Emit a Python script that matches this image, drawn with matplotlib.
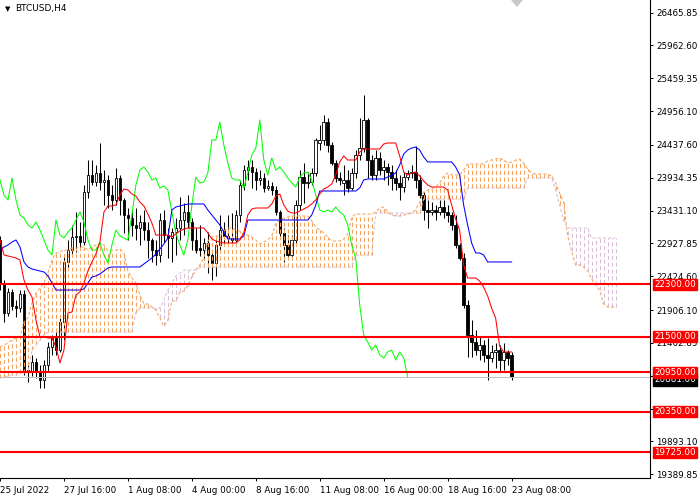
import matplotlib.pyplot as plt
from matplotlib.patches import Rectangle, Polygon

plt.rcParams['font.family'] = ['DejaVu Sans']

# BTCUSD H4 candles
opens = [22981, 22322, 21862, 22184, 21969, 21938, 22153, 20988, 20957, 21111,
         20957, 20835, 21065, 21340, 21478, 21294, 21724, 22644, 22827, 23027,
         23042, 22950, 23717, 23977, 23870, 24008, 23870, 23901, 23671, 23594,
         23931, 23594, 23364, 23318, 23211, 23165, 23257, 23134, 22981, 22827,
         22751, 23287, 23057, 23011, 23103, 23165, 23287, 23410, 23257, 22981,
         22858, 22827, 22935, 22751, 22628, 22904, 23134, 23042, 23011, 22981,
         23364, 23824, 24054, 24100, 24023, 23901, 23931, 23778, 23809, 23747,
         23410, 23088, 22904, 22751, 22981, 23517, 23947, 23855, 23870, 24008,
         24468, 24514, 24790, 24437, 24161, 23931, 23855, 23901, 23778, 24008,
         24284, 24391, 24820, 24207, 23977, 24238, 24054, 24100, 24023, 23931,
         23855, 23793, 23947, 24008, 24023, 23901, 23671, 23441, 23410, 23441,
         23410, 23487, 23410, 23364, 23211, 22904, 22705, 21984, 21524, 21417,
         21294, 21371, 21218, 21172, 21264, 21294, 21141, 21264, 21218]
highs = [23042, 22368, 22245, 22230, 22061, 22214, 22214, 21111, 21218, 21172,
         21065, 21141, 21417, 21524, 21601, 21785, 22751, 22981, 23211, 23410,
         23257, 23824, 24207, 24207, 24131, 24468, 24054, 23977, 23824, 24085,
         23977, 23625, 23471, 23441, 23471, 23364, 23441, 23257, 23011, 22981,
         23395, 23441, 23165, 23165, 23318, 23640, 23548, 23671, 23318, 23165,
         23211, 23011, 23103, 22827, 22981, 23364, 23257, 23364, 23395, 23441,
         23901, 24131, 24207, 24207, 24085, 24054, 24008, 23901, 23870, 23809,
         23441, 23165, 23057, 23057, 23594, 24054, 24161, 24023, 24085, 24544,
         24744, 24897, 24851, 24483, 24207, 24023, 24131, 24054, 24085, 24360,
         24851, 25204, 24851, 24284, 24360, 24330, 24207, 24161, 24131, 24054,
         23977, 24023, 24054, 24131, 24422, 23977, 23717, 23594, 23563, 23517,
         23594, 23594, 23517, 23410, 23364, 22935, 22782, 22061, 21754, 21601,
         21509, 21448, 21478, 21371, 21402, 21371, 21402, 21294, 21264]
lows = [22214, 21724, 21816, 21908, 21800, 21877, 20911, 20804, 20896, 20865,
        20712, 20712, 20957, 21218, 21218, 21264, 21448, 22552, 22751, 22797,
        22827, 22904, 23625, 23824, 23809, 23747, 23517, 23471, 23441, 23517,
        23364, 23088, 22981, 23042, 22981, 22904, 22981, 22705, 22644, 22598,
        22644, 22950, 22705, 22644, 22751, 22981, 23057, 23165, 22827, 22782,
        22736, 22674, 22475, 22368, 22429, 22827, 22904, 22935, 22904, 22904,
        23257, 23747, 23901, 23778, 23747, 23824, 23717, 23747, 23671, 23364,
        23011, 22644, 22705, 22705, 22904, 23441, 23548, 23778, 23824, 23962,
        24360, 24437, 24330, 24131, 23870, 23824, 23671, 23717, 23747, 23931,
        24207, 24330, 23931, 23901, 23901, 23977, 23901, 23824, 23747, 23747,
        23594, 23717, 23901, 23931, 23778, 23625, 23287, 23165, 23364, 23287,
        23364, 23318, 23257, 23134, 22858, 22674, 21938, 21187, 21187, 21218,
        21141, 21111, 20835, 21111, 21019, 20957, 20988, 21065, 20835]
closes = [22322, 21862, 22184, 21969, 21938, 22153, 20988, 20957, 21111, 20957,
          20835, 21065, 21340, 21478, 21294, 21724, 22644, 22827, 23027, 23042,
          22950, 23717, 23977, 23870, 24008, 23870, 23901, 23671, 23594, 23931,
          23594, 23364, 23318, 23211, 23165, 23257, 23134, 22981, 22827, 22751,
          23287, 23057, 23011, 23103, 23165, 23287, 23410, 23257, 22981, 22827,
          22827, 22935, 22751, 22628, 22904, 23134, 23042, 23011, 22981, 23364,
          23824, 24054, 24100, 24023, 23901, 23931, 23778, 23809, 23747, 23410,
          23088, 22904, 22751, 22981, 23517, 23947, 23855, 23870, 24008, 24514,
          24514, 24790, 24437, 24161, 23931, 23901, 23901, 23778, 24008, 24284,
          24391, 24820, 24207, 23977, 24238, 24054, 24100, 24023, 23931, 23855,
          23793, 23947, 24008, 24023, 23901, 23671, 23441, 23410, 23441, 23410,
          23487, 23410, 23364, 23211, 22904, 22705, 21984, 21524, 21417, 21294,
          21371, 21218, 21172, 21264, 21294, 21141, 21264, 21172, 20881]

# Ichimoku lines
tenkan = [22981, 22751, 22736, 22720, 22705, 22674, 22368, 22214, 22107, 21754,
          21494, 21494, 21478, 21478, 21340, 21095, 21294, 21862, 21877, 22138,
          22184, 22322, 22506, 22644, 22766, 22950, 23410, 23502, 23502, 23517,
          23671, 23763, 23747, 23686, 23655, 23563, 23502, 23379, 23241, 23057,
          23057, 23057, 23057, 23027, 23073, 23119, 23149, 23165, 23165, 23165,
          23165, 23165, 23088, 22996, 22965, 22950, 22935, 22935, 22935, 22935,
          22981, 23088, 23364, 23456, 23471, 23471, 23471, 23471, 23533, 23655,
          23686, 23517, 23425, 23395, 23395, 23425, 23456, 23487, 23533, 23594,
          23686, 23763, 23793, 23839, 23977, 24177, 24269, 24207, 24207, 24207,
          24330, 24376, 24376, 24376, 24376, 24376, 24452, 24468, 24468, 24468,
          24269, 24023, 23977, 24008, 24023, 23962, 23885, 23824, 23793, 23793,
          23793, 23793, 23747, 23517, 23303, 23134, 22598, 22398, 22398, 22398,
          22352, 22260, 22122, 21938, 21785, 21356, 21264, 21264, 21264]
kijun = [22827, 22873, 22904, 22950, 22981, 22873, 22644, 22567, 22536, 22521,
         22506, 22490, 22429, 22322, 22214, 22214, 22214, 22214, 22214, 22214,
         22214, 22230, 22322, 22414, 22429, 22460, 22506, 22552, 22567, 22567,
         22567, 22567, 22567, 22567, 22567, 22567, 22613, 22659, 22705, 22766,
         22843, 22919, 23011, 23441, 23487, 23502, 23517, 23533, 23533, 23533,
         23533, 23533, 23441, 23364, 23287, 23211, 23103, 22996, 22996, 22996,
         22996, 23042, 23287, 23287, 23287, 23287, 23287, 23287, 23287, 23287,
         23287, 23287, 23287, 23287, 23287, 23287, 23287, 23287, 23364, 23517,
         23732, 23732, 23732, 23732, 23732, 23732, 23732, 23732, 23732, 23732,
         23778, 23901, 23916, 23916, 23916, 23916, 23916, 23947, 23977, 24008,
         24131, 24299, 24360, 24391, 24406, 24360, 24253, 24177, 24177, 24177,
         24177, 24177, 24177, 24177, 24100, 23977, 23517, 23211, 22935, 22782,
         22782, 22751, 22644, 22644, 22644, 22644, 22644, 22644, 22644]
span_a = [21340, 21371, 21402, 21448, 21478, 21494, 21724, 21785, 22015, 22168,
          22245, 22322, 22475, 22674, 22782, 22797, 22827, 22827, 22858, 22858,
          22873, 22873, 22827, 22873, 22904, 22935, 22904, 22812, 22827, 22827,
          22843, 22782, 22506, 22398, 22322, 22138, 22000, 22000, 21954, 21908,
          21785, 21662, 21754, 22046, 22046, 22184, 22199, 22276, 22414, 22521,
          22598, 22705, 22965, 23027, 23042, 23042, 23119, 23165, 23165, 23134,
          23119, 23057, 23057, 23027, 22981, 22919, 22950, 22981, 23042, 23241,
          23287, 23318, 23333, 23349, 23349, 23349, 23349, 23349, 23272, 23180,
          23134, 23088, 23027, 22965, 22965, 22965, 22996, 23073, 23333, 23379,
          23379, 23379, 23379, 23379, 23410, 23471, 23487, 23410, 23364, 23349,
          23349, 23364, 23379, 23395, 23441, 23563, 23717, 23747, 23763, 23793,
          23855, 23962, 24008, 23977, 23977, 23977, 24054, 24146, 24146, 24146,
          24146, 24146, 24192, 24207, 24223, 24238, 24207, 24161, 24177, 24207,
          24223, 24161, 24069, 24008, 23993, 23993, 23993, 23993, 23962, 23855,
          23701, 23563, 23057, 22812, 22598, 22598, 22567, 22506, 22383, 22291,
          22214, 22000, 21954, 21954, 21954]
span_b = [20865, 20881, 20896, 20911, 20911, 20942, 20942, 20957, 21294, 21371,
          21448, 21524, 21570, 21570, 21570, 21570, 21570, 21570, 21570, 21570,
          21570, 21570, 21570, 21570, 21570, 21570, 21570, 21570, 21570, 21570,
          21570, 21570, 21570, 21570, 21862, 21938, 21938, 21938, 21938, 21938,
          21938, 22061, 22214, 22322, 22429, 22475, 22521, 22521, 22521, 22521,
          22567, 22567, 22567, 22567, 22567, 22567, 22567, 22567, 22567, 22567,
          22567, 22567, 22567, 22567, 22567, 22567, 22567, 22567, 22567, 22567,
          22567, 22567, 22567, 22567, 22567, 22567, 22567, 22567, 22567, 22567,
          22567, 22567, 22567, 22567, 22567, 22567, 22567, 22567, 22567, 22751,
          22751, 22751, 22751, 22751, 23395, 23395, 23395, 23395, 23395, 23395,
          23395, 23395, 23395, 23395, 23395, 23395, 23609, 23609, 23609, 23609,
          23609, 23609, 23609, 23609, 23609, 23609, 23609, 23778, 23778, 23778,
          23778, 23778, 23778, 23778, 23778, 23778, 23778, 23778, 23778, 23778,
          23778, 23778, 23931, 23931, 23931, 23931, 23931, 23931, 23931, 23747,
          23517, 23287, 23165, 23165, 23165, 23165, 23165, 23165, 23011, 23011,
          23011, 23011, 23011, 23011, 23011]
chikou_shift = 26

levels = [22300, 21500, 20950, 20350, 19725]
level_labels = ['22300.00', '21500.00', '20950.00', '20350.00', '19725.00']
bid = 20881
bid_label = '20881.00'

price_ticks = [26465.85, 25962.60, 25459.35, 24956.10, 24437.60, 23934.35,
               23431.10, 22927.85, 22424.60, 21906.10, 21402.85, 20899.60,
               20396.35, 19893.10, 19389.85]
# these two sit fully under the level boxes
hidden_ticks = [20899.60, 20396.35]
time_bars = [0, 16, 32, 48, 64, 80, 96, 112, 128]
time_labels = ['25 Jul 2022', '27 Jul 16:00', '1 Aug 08:00', '4 Aug 00:00',
               '8 Aug 16:00', '11 Aug 08:00', '16 Aug 00:00', '18 Aug 16:00',
               '23 Aug 08:00']

fig = plt.figure(figsize=(7, 5), dpi=100)
ax = fig.add_axes([0, 22 / 500, 650 / 700, 478 / 500])
ax.set_xlim(0.125, 162.625)
ax.set_ylim(19332, 26660)

# candles
for i in range(len(closes)):
    o, h, l, c = opens[i], highs[i], lows[i], closes[i]
    ax.plot([i, i], [l, h], color='black', lw=0.75, zorder=2, solid_capstyle='butt')
    bottom = min(o, c)
    height = max(abs(c - o), 8)
    face = 'white' if c > o else 'black'
    ax.add_patch(Rectangle((i - 0.32, bottom), 0.64, height, facecolor=face,
                           edgecolor='black', lw=0.6, zorder=2.1))

# cloud
sandy = '#F4A460'
thistle = '#D8BFD8'
for i in range(len(span_a)):
    a, b = span_a[i], span_b[i]
    col = sandy if a >= b else thistle
    ax.plot([i, i], [min(a, b), max(a, b)], color=col, lw=0.75,
            linestyle=(0, (4, 2.5)), zorder=3)
bars_cloud = list(range(len(span_a)))
ax.plot(bars_cloud, span_a, color=sandy, lw=0.75, linestyle=(0, (3, 2)), zorder=3)
ax.plot(bars_cloud, span_b, color=thistle, lw=0.75, linestyle=(0, (3, 2)), zorder=3)

bars = list(range(len(closes)))
ax.plot(bars[:-chikou_shift], closes[chikou_shift:], color='#00FF00', lw=0.75, zorder=4)
ax.plot(bars, kijun, color='#0000FF', lw=0.75, zorder=4)
ax.plot(bars, tenkan, color='#FF0000', lw=0.75, zorder=4)

# bid line and levels
ax.axhline(bid, color='#C0C0C0', lw=0.75, zorder=4)
for lv in levels:
    ax.axhline(lv, color='#FF0000', lw=1.5, zorder=5)

# axes styling
for s in ['top', 'left']:
    ax.spines[s].set_visible(False)
ax.spines['right'].set_linewidth(0.8)
ax.spines['bottom'].set_linewidth(0.8)
ax.yaxis.tick_right()
ax.set_yticks(price_ticks)
ax.set_yticklabels(['' if p in hidden_ticks else '%.2f' % p for p in price_ticks])
ax.set_xticks(time_bars)
ax.set_xticklabels(time_labels, ha='left')
ax.tick_params(axis='both', labelsize=6.3, length=2.5, width=0.7, pad=2)
ax.tick_params(axis='x', pad=3)

# price boxes on the right axis
ax.annotate(bid_label, xy=(1, bid), xycoords=('axes fraction', 'data'),
            xytext=(3, -2), textcoords='offset points', va='center', ha='left',
            fontsize=6.3, color='white',
            bbox=dict(boxstyle='square,pad=0.15', fc='black', ec='black'),
            zorder=6, annotation_clip=False)
for lv, txt in zip(levels, level_labels):
    ax.annotate(txt, xy=(1, lv), xycoords=('axes fraction', 'data'),
                xytext=(3, 0), textcoords='offset points', va='center', ha='left',
                fontsize=6.3, color='white',
                bbox=dict(boxstyle='square,pad=0.15', fc='#FF0000', ec='#FF0000'),
                zorder=7, annotation_clip=False)

fig.text(5 / 700, 1 - 9 / 500, '\u25bc', fontsize=5, va='center', ha='left')
fig.text(15 / 700, 1 - 9 / 500, 'BTCUSD,H4', fontsize=6.5, va='center', ha='left')
fig.add_artist(Polygon([[511 / 700, 1], [523 / 700, 1], [517 / 700, 1 - 7 / 500]],
                       closed=True, fc='#C8C8C8', ec='none', transform=fig.transFigure))

fig.savefig('out.png', dpi=100)
